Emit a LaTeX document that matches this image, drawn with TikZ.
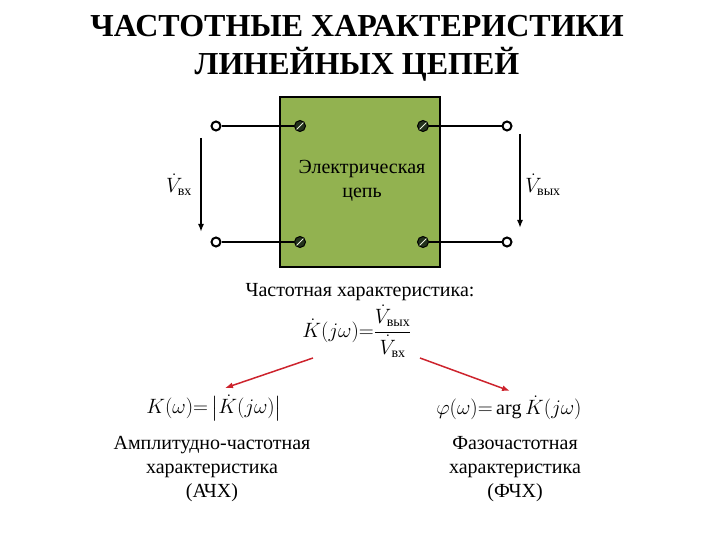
\documentclass[tikz,border=0pt]{standalone}
\usepackage{amsmath}
\usepackage{fontspec}
\setmainfont{Liberation Serif}
\usetikzlibrary{arrows.meta}
\definecolor{boxgreen}{RGB}{146,178,80}
\definecolor{screwgreen}{RGB}{35,50,28}
\definecolor{arrowred}{RGB}{205,35,45}

\begin{document}
\begin{tikzpicture}[x=1pt,y=-1pt,line width=1.6pt,
    term/.style={circle,draw,line width=2pt,fill=white,inner sep=0pt,minimum size=9pt},
    screw/.style={circle,draw=black,line width=1pt,fill=screwgreen,inner sep=0pt,minimum size=11pt,
        path picture={\draw[white!80!boxgreen,line width=0.8pt] (path picture bounding box.south west) -- (path picture bounding box.north east);}},
    lbl/.style={font=\fontsize{20}{24}\selectfont,align=center}]

\useasboundingbox (0,0) rectangle (720,540);

% Title
\node[font=\fontsize{32}{38}\selectfont\bfseries,align=center] (title) at (357,48) {ЧАСТОТНЫЕ ХАРАКТЕРИСТИКИ\\ЛИНЕЙНЫХ ЦЕПЕЙ};

% Two-port box
\node[draw,fill=boxgreen,line width=1.8pt,minimum width=160pt,minimum height=170pt] (net) at (360,182) {};
\node[lbl] (nettxt) at (362,181) {Электрическая\\цепь};

% Terminals and wires
\foreach \n/\x/\y/\s/\sx in {in1/216/126/s1/300, in2/216/242/s2/300, out1/507/126/s3/423, out2/507/242/s4/423} {
    \node[screw] (\s) at (\sx,\y) {};
    \node[term] (\n) at (\x,\y) {};
    \draw (\n) -- (\s);
}

% Voltage arrows
\coordinate (vin1) at (201,138);
\coordinate (vin2) at (201,232);
\coordinate (vout1) at (520,134);
\coordinate (vout2) at (520,228);
\draw[-{Latex[length=8pt,width=6pt]}] (vin1) -- (vin2);
\draw[-{Latex[length=8pt,width=6pt]}] (vout1) -- (vout2);
\node[lbl] (vinlbl) at (179,185) {$\dot V_{\text{вх}}$};
\node[lbl] (voutlbl) at (543,185) {$\dot V_{\text{вых}}$};

% Transfer function
\node[lbl] (caption) at (360,292) {Частотная характеристика:};
\node[lbl] (kjw) at (357,331) {$\dot K(j\omega){=}\dfrac{\dot V_{\text{вых}}}{\dot V_{\text{вх}}}$};

% Amplitude and phase
\node[lbl] (amp) at (214,408) {$K(\omega){=}\left|\dot K(j\omega)\right|$};
\node[lbl] (phase) at (509,408) {$\varphi(\omega){=}\arg\dot K(j\omega)$};
\node[lbl] (amptxt) at (212,469) {Амплитудно-частотная\\характеристика\\(АЧХ)};
\node[lbl] (phasetxt) at (515,469) {Фазочастотная\\характеристика\\(ФЧХ)};

% Red arrows
\coordinate (r1) at (313,358);
\coordinate (r2) at (420,358);
\coordinate (r3) at (225,388);
\coordinate (r4) at (510,391);
\draw[arrowred,line width=1.5pt,-{Latex[length=8pt,width=6pt]}] (r1) -- (r3);
\draw[arrowred,line width=1.5pt,-{Latex[length=8pt,width=6pt]}] (r2) -- (r4);

\end{tikzpicture}
\end{document}
